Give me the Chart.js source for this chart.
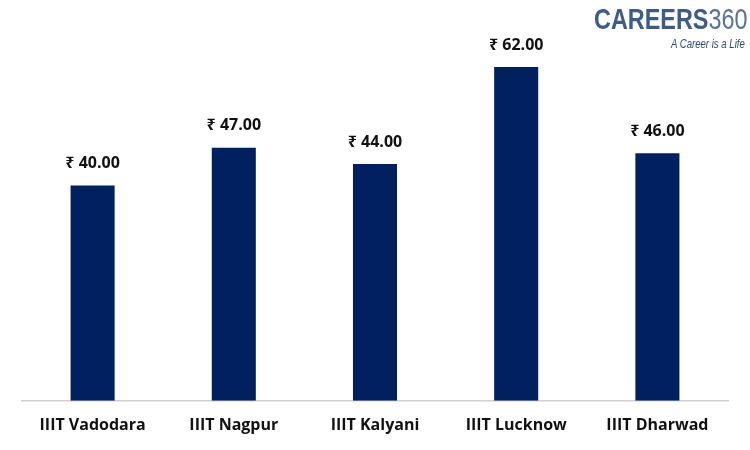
<!DOCTYPE html>
<html>
<head>
<meta charset="utf-8">
<script src="https://cdn.jsdelivr.net/npm/chart.js@4.4.0/dist/chart.umd.min.js"></script>
<style>
  html, body { margin: 0; padding: 0; background: #fff; }
  #wrap { position: relative; width: 750px; height: 450px; }
  #logo { position: absolute; left: 594px; top: 4px; width: 160px; font-family: "Liberation Sans", Arial, sans-serif; }
  #logo .big { font-size: 30px; color: #3e5c86; line-height: 30px; transform: scaleX(0.78); transform-origin: left top; white-space: nowrap; }
  #logo .big b { font-weight: bold; }
  #logo .big span { font-weight: normal; color: #5a7396; }
  #logo .tag { position: absolute; left: 77px; top: 33px; font-size: 12px; font-style: italic; color: #2d4a75; white-space: nowrap; transform: scaleX(0.8); transform-origin: left top; }
</style>
</head>
<body>
<div id="wrap">
  <canvas id="chart" width="750" height="450"></canvas>
  <div id="logo">
    <div class="big"><b>CAREERS</b><span>360</span></div>
    <div class="tag">A Career is a Life</div>
  </div>
</div>
<script>
// Dados do gráfico
const institutes = ['IIIT Vadodara', 'IIIT Nagpur', 'IIIT Kalyani', 'IIIT Lucknow', 'IIIT Dharwad'];
const fees = [40, 47, 44, 62, 46];

const labelFont = '"Open Sans", "Noto Sans", sans-serif';

// Escreve o valor acima de cada barra
const valueLabels = {
  id: 'valueLabels',
  afterDatasetsDraw(chart) {
    const { ctx } = chart;
    const meta = chart.getDatasetMeta(0);
    ctx.save();
    ctx.font = 'bold 16px ' + labelFont;
    ctx.fillStyle = '#111';
    ctx.textAlign = 'center';
    ctx.textBaseline = 'middle';
    meta.data.forEach((bar, i) => {
      ctx.fillText('₹ ' + fees[i].toFixed(2), bar.x, bar.y - 22);
    });
    ctx.restore();
  },
};

new Chart(document.getElementById('chart'), {
  type: 'bar',
  data: {
    labels: institutes,
    datasets: [{
      data: fees,
      backgroundColor: '#002060',
      barPercentage: 0.312,
      categoryPercentage: 1,
    }],
  },
  options: {
    responsive: false,
    animation: false,
    layout: { padding: { left: 22, right: 22, top: 24, bottom: 0 } },
    plugins: { legend: { display: false }, tooltip: { enabled: false } },
    scales: {
      x: {
        grid: { display: false, drawTicks: false },
        border: { color: '#d0d0d0', width: 1.5 },
        ticks: { color: '#111', font: { family: labelFont, size: 16, weight: 'bold' }, padding: 15 },
      },
      y: {
        display: false,
        min: 0,
        max: 70,
      },
    },
  },
  plugins: [valueLabels],
});
</script>
</body>
</html>
